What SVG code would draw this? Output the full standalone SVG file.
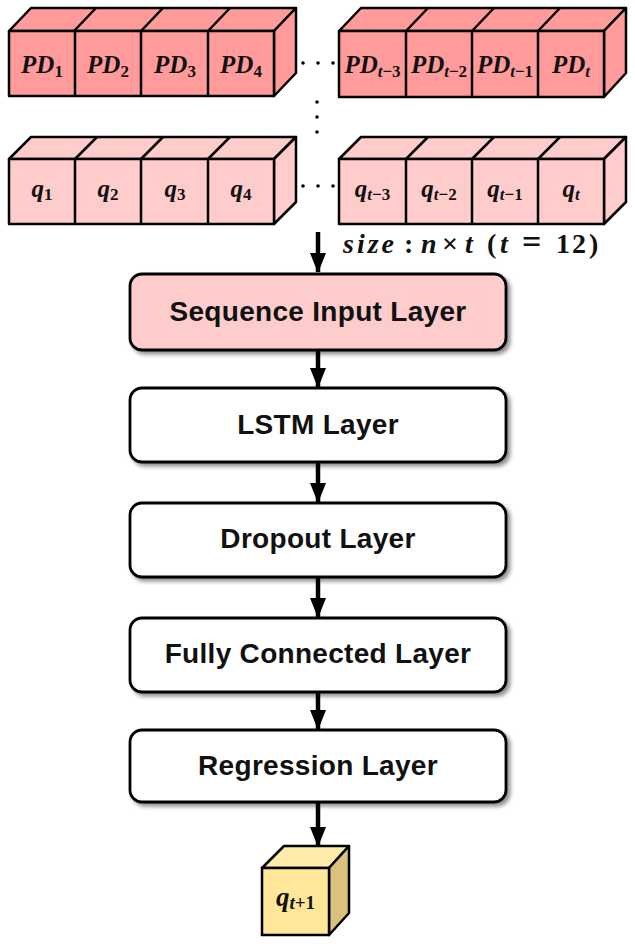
<svg xmlns="http://www.w3.org/2000/svg" width="635" height="944" viewBox="0 0 635 944">
<defs>
<style>
.pd{fill:#FF9B9B;stroke:#000;stroke-width:2.5;stroke-linejoin:round}
.q{fill:#FFCCCC;stroke:#000;stroke-width:2.5;stroke-linejoin:round}
.ln{fill:none;stroke:#000;stroke-width:2.5}
.m{font-family:"Liberation Serif","Times New Roman",serif;font-weight:bold;font-style:italic;font-size:25px;fill:#111;text-anchor:middle}
.s{font-size:17px}
.up{font-style:normal}
.box{stroke:#000;stroke-width:2.8;filter:url(#sh)}
.lbl{font-family:"Liberation Sans",Arial,sans-serif;font-weight:bold;font-size:28px;letter-spacing:0.3px;fill:#111;text-anchor:middle}
.arr{stroke:#000;stroke-width:4.5;fill:none;marker-end:url(#ah)}
.dot{fill:#000}
.sz{font-family:"Liberation Serif","Times New Roman",serif;font-weight:bold;font-size:28px;fill:#111}
.it{font-style:italic}
</style>
<filter id="sh" x="-10%" y="-20%" width="130%" height="150%">
<feGaussianBlur in="SourceAlpha" stdDeviation="2"/>
<feOffset dx="3" dy="3" result="b"/>
<feComponentTransfer><feFuncA type="linear" slope="0.45"/></feComponentTransfer>
<feMerge><feMergeNode/><feMergeNode in="SourceGraphic"/></feMerge>
</filter>
<marker id="ah" markerUnits="userSpaceOnUse" markerWidth="20" markerHeight="16" viewBox="0 0 20 16" refX="19" refY="8" orient="auto">
<path d="M0,0 L20,8 L0,16 Z" fill="#000"/>
</marker>
</defs>
<rect width="635" height="944" fill="#fff"/>

<!-- PD row left -->
<g id="pd-left">
<polygon class="pd" points="9,31 31,8 296,8 274,31"/>
<polygon class="pd" points="274,31 296,8 296,73 274,96"/>
<rect class="pd" x="9" y="31" width="265" height="65"/>
<path class="ln" d="M74,31 L96,8 M141,31 L163,8 M208,31 L230,8 M75,31 V96 M141,31 V96 M208,31 V96"/>
<text class="m" x="42" y="73">PD<tspan class="s up" dy="4">1</tspan></text>
<text class="m" x="108" y="73">PD<tspan class="s up" dy="4">2</tspan></text>
<text class="m" x="175" y="73">PD<tspan class="s up" dy="4">3</tspan></text>
<text class="m" x="241" y="73">PD<tspan class="s up" dy="4">4</tspan></text>
</g>

<!-- PD row right -->
<g id="pd-right">
<polygon class="pd" points="339,31 361,8 626,8 604,31"/>
<polygon class="pd" points="604,31 626,8 626,73 604,97"/>
<rect class="pd" x="339" y="31" width="265" height="66"/>
<path class="ln" d="M406,31 L428,8 M472,31 L494,8 M538,31 L560,8 M406,31 V97 M472,31 V97 M538,31 V97"/>
<text class="m" x="372.5" y="73">PD<tspan class="s" dy="4">t</tspan><tspan class="s up">−3</tspan></text>
<text class="m" x="439" y="73">PD<tspan class="s" dy="4">t</tspan><tspan class="s up">−2</tspan></text>
<text class="m" x="505" y="73">PD<tspan class="s" dy="4">t</tspan><tspan class="s up">−1</tspan></text>
<text class="m" x="571" y="73">PD<tspan class="s" dy="4">t</tspan></text>
</g>

<!-- q row left -->
<g id="q-left">
<polygon class="q" points="9,159 31,137 296,137 274,159"/>
<polygon class="q" points="274,159 296,137 296,202 274,224"/>
<rect class="q" x="9" y="159" width="265" height="65"/>
<path class="ln" d="M75,159 L97,137 M141,159 L163,137 M208,159 L230,137 M75,159 V224 M141,159 V224 M208,159 V224"/>
<text class="m" x="42" y="197">q<tspan class="s up" dy="3">1</tspan></text>
<text class="m" x="108" y="197">q<tspan class="s up" dy="3">2</tspan></text>
<text class="m" x="175" y="197">q<tspan class="s up" dy="3">3</tspan></text>
<text class="m" x="241" y="197">q<tspan class="s up" dy="3">4</tspan></text>
</g>

<!-- q row right -->
<g id="q-right">
<polygon class="q" points="339,159 361,137 626,137 604,159"/>
<polygon class="q" points="604,159 626,137 626,202 604,224"/>
<rect class="q" x="339" y="159" width="265" height="65"/>
<path class="ln" d="M406,159 L428,137 M472,159 L494,137 M538,159 L560,137 M406,159 V224 M472,159 V224 M538,159 V224"/>
<text class="m" x="372.5" y="197">q<tspan class="s" dy="3">t</tspan><tspan class="s up">−3</tspan></text>
<text class="m" x="439" y="197">q<tspan class="s" dy="3">t</tspan><tspan class="s up">−2</tspan></text>
<text class="m" x="505" y="197">q<tspan class="s" dy="3">t</tspan><tspan class="s up">−1</tspan></text>
<text class="m" x="571" y="197">q<tspan class="s" dy="3">t</tspan></text>
</g>

<!-- ellipsis dots -->
<g id="dots">
<circle class="dot" cx="303" cy="63" r="1.8"/>
<circle class="dot" cx="318" cy="63" r="1.8"/>
<circle class="dot" cx="333" cy="63" r="1.8"/>
<circle class="dot" cx="317" cy="102" r="1.8"/>
<circle class="dot" cx="317" cy="117" r="1.8"/>
<circle class="dot" cx="317" cy="132" r="1.8"/>
<circle class="dot" cx="303" cy="186" r="1.8"/>
<circle class="dot" cx="318" cy="186" r="1.8"/>
<circle class="dot" cx="333" cy="186" r="1.8"/>
</g>

<!-- size label -->
<text id="size-label" class="sz" y="253"><tspan class="it" x="343" letter-spacing="3">size</tspan><tspan x="404">:</tspan><tspan class="it" x="421">n</tspan><tspan x="442">×</tspan><tspan class="it" x="465">t</tspan><tspan x="487">(</tspan><tspan class="it" x="500">t</tspan><tspan x="522" style="font-size:34px">=</tspan><tspan x="556" letter-spacing="2">12</tspan><tspan x="589">)</tspan></text>

<!-- connectors -->
<g id="connectors">
<line class="arr" x1="318" y1="232" x2="318" y2="272"/>
<line class="arr" x1="318" y1="350" x2="318" y2="387"/>
<line class="arr" x1="318" y1="462" x2="318" y2="502"/>
<line class="arr" x1="318" y1="577" x2="318" y2="617"/>
<line class="arr" x1="318" y1="692" x2="318" y2="729"/>
<line class="arr" x1="318" y1="802" x2="318" y2="846"/>
</g>

<g id="sequence-input">
<rect class="box" x="130" y="274" width="376" height="76" rx="12" fill="#FFCCCC"/>
<text class="lbl" x="318" y="321">Sequence Input Layer</text>
</g>
<g id="lstm">
<rect class="box" x="130" y="388" width="376" height="74" rx="12" fill="#fff"/>
<text class="lbl" x="318" y="434">LSTM Layer</text>
</g>
<g id="dropout">
<rect class="box" x="130" y="503" width="376" height="74" rx="12" fill="#fff"/>
<text class="lbl" x="318" y="548">Dropout Layer</text>
</g>
<g id="fully-connected">
<rect class="box" x="130" y="618" width="376" height="74" rx="12" fill="#fff"/>
<text class="lbl" x="318" y="663">Fully Connected Layer</text>
</g>
<g id="regression">
<rect class="box" x="130" y="730" width="376" height="72" rx="12" fill="#fff"/>
<text class="lbl" x="318" y="775">Regression Layer</text>
</g>

<!-- output cube -->
<g id="output">
<polygon points="262,868 284,846 349,846 329,868" fill="#FFEBAA" stroke="#000" stroke-width="2.5" stroke-linejoin="round"/>
<polygon points="329,868 349,846 349,913 329,935" fill="#D8C27C" stroke="#000" stroke-width="2.5" stroke-linejoin="round"/>
<rect x="262" y="868" width="67" height="67" fill="#FFE699" stroke="#000" stroke-width="2.5"/>
<text class="m" x="295.5" y="906" style="font-size:27px">q<tspan class="s" dy="3" style="font-size:19px">t</tspan><tspan class="s up" style="font-size:19px">+1</tspan></text>
</g>
</svg>
